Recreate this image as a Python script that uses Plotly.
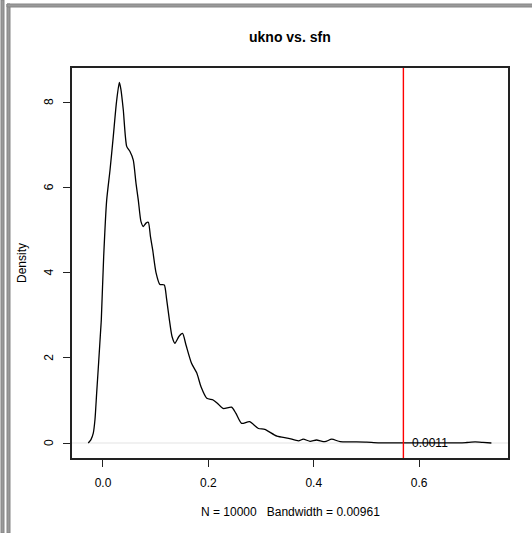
import plotly.graph_objects as go

# Density curve
x_vals = [-0.0279, -0.0228, -0.0184, -0.0152, -0.012, -0.0082, -0.0044, -0.0032, 0.0013, 0.007,
          0.0133, 0.0195, 0.0256, 0.031, 0.034, 0.0385, 0.045, 0.0512, 0.0575, 0.0626,
          0.067, 0.072, 0.0765, 0.0816, 0.086, 0.090, 0.0943, 0.1006, 0.108, 0.1163,
          0.1205, 0.126, 0.131, 0.1366, 0.144, 0.151, 0.1575, 0.168, 0.178, 0.186,
          0.197, 0.209, 0.218, 0.228, 0.244, 0.252, 0.263, 0.278, 0.295, 0.307,
          0.33, 0.352, 0.371, 0.38, 0.393, 0.405, 0.421, 0.434, 0.45, 0.478,
          0.50, 0.522, 0.563, 0.64, 0.677, 0.69, 0.706, 0.721, 0.737]
dens_vals = [0.0, 0.08, 0.23, 0.55, 1.17, 1.9, 2.65, 2.89, 4.37, 5.7,
             6.4, 7.19, 8.0, 8.46, 8.3, 7.82, 6.96, 6.84, 6.64, 6.1,
             5.7, 5.2, 5.08, 5.16, 5.18, 4.85, 4.53, 4.0, 3.72, 3.71,
             3.4, 2.89, 2.5, 2.34, 2.5, 2.57, 2.3, 1.87, 1.64, 1.32,
             1.05, 1.01, 0.92, 0.81, 0.84, 0.7, 0.46, 0.50, 0.34, 0.32,
             0.16, 0.11, 0.05, 0.09, 0.04, 0.07, 0.03, 0.09, 0.03, 0.025,
             0.02, 0.005, 0.002, 0.001, 0.003, 0.012, 0.025, 0.015, 0.0]

observed_x = 0.57
observed_label = "0.0011"
label_x = 0.62
title_text = "ukno vs. sfn"
x_title = "N = 10000\u00a0\u00a0\u00a0Bandwidth = 0.00961"
y_title = "Density"
x_ticks = [0.0, 0.2, 0.4, 0.6]
x_ticktext = ["0.0", "0.2", "0.4", "0.6"]
y_ticks = [0, 2, 4, 6, 8]
y_ticktext = ["0", "2", "4", "6", "8"]

W, H = 532, 533
L, R, T, B = 72, 24, 68, 75
pw, ph = W - L - R, H - T - B

def px(xp):
    return (xp - L) / pw

def py(yp):
    return (H - B - yp) / ph

FONT = "Liberation Sans, Arial, sans-serif"

fig = go.Figure()
fig.add_trace(go.Scatter(x=x_vals, y=dens_vals, mode="lines",
                         line=dict(color="black", width=1.3, shape="spline", smoothing=0.6),
                         hoverinfo="skip", showlegend=False))

shapes = [
    # zero line
    dict(type="line", xref="paper", yref="y", x0=0, x1=1, y0=0, y1=0,
         line=dict(color="#e3e3e3", width=1.2), layer="below"),
    # observed value line
    dict(type="line", xref="x", yref="paper", x0=observed_x, x1=observed_x, y0=0, y1=1,
         line=dict(color="#ff0000", width=1.4)),
    # outer frame bars
    dict(type="rect", xref="paper", yref="paper", x0=px(1), x1=px(4), y0=py(533), y1=py(0),
         fillcolor="#9a9a9a", line=dict(color="#858585", width=1)),
    dict(type="rect", xref="paper", yref="paper", x0=px(7), x1=px(10), y0=py(533), y1=py(4),
         fillcolor="#9a9a9a", line=dict(color="#858585", width=1)),
    dict(type="rect", xref="paper", yref="paper", x0=px(7), x1=px(533), y0=py(7), y1=py(4),
         fillcolor="#9a9a9a", line=dict(color="#858585", width=1)),
]

annotations = [
    dict(text=observed_label, x=label_x, y=0, xref="x", yref="y", showarrow=False,
         font=dict(family=FONT, size=12, color="black"), xanchor="center", yanchor="middle"),
    dict(text="<b>" + title_text + "</b>", x=px(290), y=py(37), xref="paper", yref="paper",
         showarrow=False, font=dict(family=FONT, size=14, color="black"),
         xanchor="center", yanchor="middle"),
    dict(text=x_title, x=px(290), y=py(512), xref="paper", yref="paper",
         showarrow=False, font=dict(family=FONT, size=12, color="black"),
         xanchor="center", yanchor="middle"),
    dict(text=y_title, x=px(22), y=py(263), xref="paper", yref="paper", textangle=-90,
         showarrow=False, font=dict(family=FONT, size=12, color="black"),
         xanchor="center", yanchor="middle"),
]
# rotated y tick labels (R style, parallel to axis)
for v, t in zip(y_ticks, y_ticktext):
    annotations.append(dict(text=t, x=px(49), y=v, xref="paper", yref="y", textangle=-90,
                            showarrow=False, font=dict(family=FONT, size=12, color="black"),
                            xanchor="center", yanchor="middle"))

fig.update_layout(
    width=W, height=H,
    margin=dict(l=L, r=R, t=T, b=B),
    paper_bgcolor="white", plot_bgcolor="white",
    shapes=shapes, annotations=annotations,
    font=dict(family=FONT, size=12, color="black"),
    xaxis=dict(range=[-0.0588, 0.7685], tickvals=x_ticks, ticktext=x_ticktext,
               showgrid=False, zeroline=False, showline=True, mirror=True,
               linecolor="#222", linewidth=1.5, ticks="outside", ticklen=7,
               tickcolor="#222", tickwidth=1.3, tickfont=dict(size=12, family=FONT),
               ticklabelstandoff=6),
    yaxis=dict(range=[-0.352, 8.80], tickvals=y_ticks, showticklabels=False,
               showgrid=False, zeroline=False, showline=True, mirror=True,
               linecolor="#222", linewidth=1.5, ticks="outside", ticklen=7,
               tickcolor="#222", tickwidth=1.3),
)

fig.write_html("out.html")
